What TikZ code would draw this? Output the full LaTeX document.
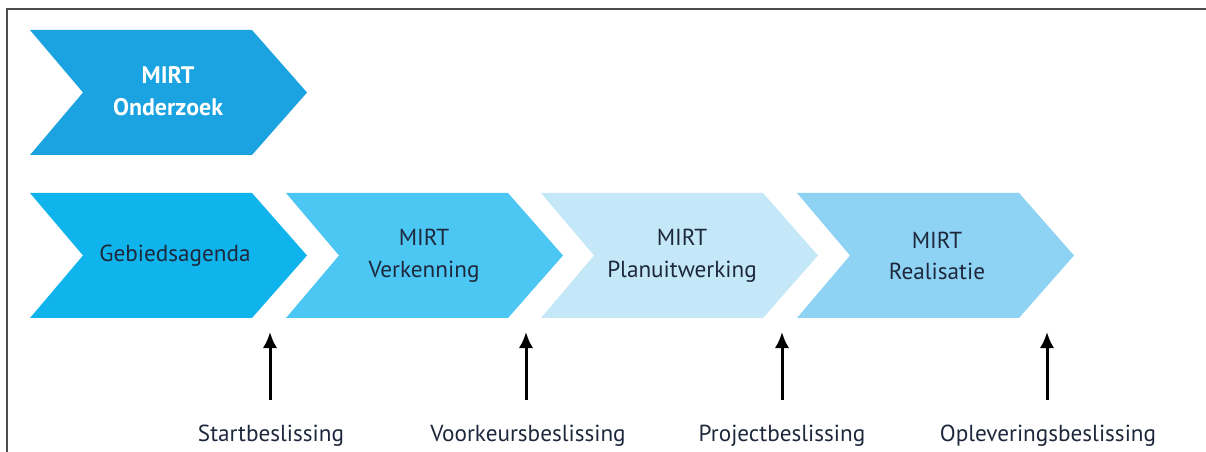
\documentclass[tikz,border=0pt]{standalone}
\usepackage{fontspec}
\setmainfont{PT Sans}
\usetikzlibrary{calc,arrows.meta}
\definecolor{onderzoek}{RGB}{26,163,224}
\definecolor{gebied}{RGB}{16,180,236}
\definecolor{verken}{RGB}{76,198,242}
\definecolor{planuit}{RGB}{196,232,248}
\definecolor{realis}{RGB}{142,211,244}
\definecolor{navytext}{RGB}{30,40,60}
% chevron: left x, top y (in px)
\def\chevron[#1](#2,#3){\fill[#1] (#2,#3) -- ++(222,0) -- ++(55,62.5) -- ++(-55,62.5) -- ++(-222,0) -- ++(53,-62.5) -- cycle;}

\begin{document}
\begin{tikzpicture}[x=0.025cm,y=-0.025cm,
	phase/.style={font=\fontsize{16.5}{22.5}\selectfont, text=navytext, align=center},
	besluit/.style={font=\fontsize{16.5}{20}\selectfont, text=navytext},
	pijl/.style={line width=0.75mm, -{Latex[length=4mm,width=3.6mm]}}]
		%%%%% START %%%%%
		\useasboundingbox (0,0) rectangle (1206,452);
		
		\draw[line width=0.35mm, color=black!70] (1206,9) -- (7,9) -- (7,452);
		
		\chevron[onderzoek](30,30);
		\node[phase, text=white, font=\fontsize{17}{23}\selectfont\bfseries] (onderzoek) at (168,91) {MIRT\\Onderzoek};
		
		\chevron[gebied](30,193);
		\chevron[verken](286,193);
		\chevron[planuit](541,193);
		\chevron[realis](797,193);
		
		\node[phase] (gebied) at (175,256) {Gebiedsagenda};
		\node[phase] (verken) at (424,256) {MIRT\\Verkenning};
		\node[phase] (planuit) at (682,256) {MIRT\\Planuitwerking};
		\node[phase] (realis) at (937,256) {MIRT\\Realisatie};
		
		\node[besluit] (start) at (271,436) {Startbeslissing};
		\node[besluit] (voorkeur) at (528,436) {Voorkeursbeslissing};
		\node[besluit] (project) at (782,436) {Projectbeslissing};
		\node[besluit] (oplever) at (1048,436) {Opleveringsbeslissing};
		
		\coordinate (t1) at (270,332); \coordinate (b1) at (270,400);
		\coordinate (t2) at (526,332); \coordinate (b2) at (526,400);
		\coordinate (t3) at (782,332); \coordinate (b3) at (782,400);
		\coordinate (t4) at (1047,332); \coordinate (b4) at (1047,400);
		
		\draw[pijl] (b1) -- (t1);
		\draw[pijl] (b2) -- (t2);
		\draw[pijl] (b3) -- (t3);
		\draw[pijl] (b4) -- (t4);
		
		%%%%% END %%%%%
	\end{tikzpicture}
\end{document}
